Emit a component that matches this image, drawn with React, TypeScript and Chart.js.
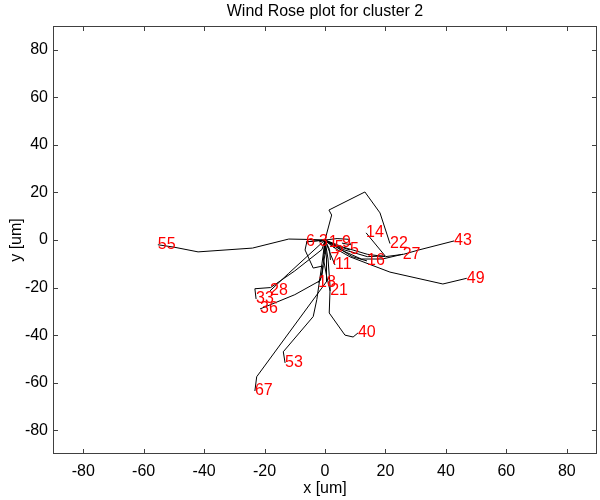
import React, { useEffect, useRef } from "react";
import { Chart, registerables } from "chart.js";

Chart.register(...registerables);

const chartTitle = "Wind Rose plot for cluster 2";
const xAxisLabel = "x [um]";
const yAxisLabel = "y [um]";
const tickValues = [-80, -60, -40, -20, 0, 20, 40, 60, 80];

const trackLabels = ["55", "6", "3", "1", "5", "9", "5", "7", "11", "14", "22", "16", "27", "43", "49", "18", "21", "28", "33", "36", "40", "53", "67"];

const trackXs = [
  [0, -4, -12, -24, -42, -50, -55.3],
  [0, -3, -6.3],
  [0, -1, -2],
  [0, 0.5, 1.2],
  [0, 1.5, 3.2],
  [0, 4, 7.7, 8.5, 5.6],
  [0, 4, 8.3],
  [0, 1.5, 1.8],
  [0, 1.5, 3.3],
  [0, 6, 14, 19.9, 13.6],
  [0, 2.2, 1.3, 13.2, 18.2, 21.5],
  [0, 4, 9, 13.9],
  [0, 5, 12, 19, 25.7],
  [0, 6, 14, 20, 26, 31, 42.7],
  [0, 4, 8.3, 21.5, 39, 46.9],
  [0, -6, -6.6, -3.9, -0.6, -1, -2.3],
  [0, -0.5, 0.5, 1.7],
  [0, -6, -12, -18.2],
  [0, -1, -10, -18, -23.2, -22.8],
  [0, 0, -1.5, -10, -21.5],
  [0, 1, 1.7, 1.4, 6.6, 9.3, 10.9],
  [0, -1, -2.7, -3.9, -13.8, -13.2],
  [0, 0.5, 0.5, -22.6, -23.2],
];

const trackYs = [
  [0, 0.2, 0.4, -3.4, -5, -3, -2],
  [0, -0.4, -0.8],
  [0, -0.5, -0.8],
  [0, -0.6, -1.3],
  [0, -1.8, -3.4],
  [0, 0.6, 0.3, -2, -1.3],
  [0, -2.5, -4.2],
  [0, -4, -8.4],
  [0, -5, -10.5],
  [0, -4, -7, -6.7, 3],
  [0, 10.5, 12.6, 20.2, 11.4, -1.5],
  [0, -3, -7, -8.8],
  [0, -4, -8, -8, -6],
  [0, -3, -6, -7, -6, -4.2, -0.4],
  [0, -4, -7.1, -13.5, -18.5, -16.1],
  [0, -0.7, -4.2, -11.8, -10.9, -15, -18],
  [0, -8, -15, -21.4],
  [0, -7, -14, -21.4],
  [0, -4, -13, -20, -20.5, -24.8],
  [0, -6, -17, -23, -29],
  [0, -8, -19.8, -30.7, -40, -40.8, -39.1],
  [0, -10, -25, -32.2, -47, -51.7],
  [0, -8, -17.5, -57.5, -63.5],
];

const FONT = "'Liberation Sans', Arial, Helvetica, sans-serif";

const decorPlugin = {
  id: "decor",
  afterDatasetsDraw(chart: any) {
    const ctx = chart.ctx;
    ctx.save();
    ctx.font = `16px ${FONT}`;
    ctx.fillStyle = "#ff0000";
    ctx.textAlign = "left";
    ctx.textBaseline = "middle";
    chart.data.datasets.forEach((ds: any, i: number) => {
      const meta = chart.getDatasetMeta(i);
      const last = meta.data[meta.data.length - 1];
      if (last) ctx.fillText(ds.label, last.x, last.y);
    });
    ctx.restore();
  },
  afterDraw(chart: any) {
    const ctx = chart.ctx;
    const a = chart.chartArea;
    const xs = chart.scales.x;
    const ys = chart.scales.y;
    ctx.save();
    ctx.strokeStyle = "#404040";
    ctx.lineWidth = 1;
    ctx.strokeRect(Math.round(a.left) + 0.5, Math.round(a.top) + 0.5, Math.round(a.right - a.left) - 1, Math.round(a.bottom - a.top) - 1);
    const tl = 5;
    ctx.beginPath();
    tickValues.forEach((v) => {
      const px = Math.round(xs.getPixelForValue(v)) + 0.5;
      ctx.moveTo(px, a.top);
      ctx.lineTo(px, a.top + tl);
      ctx.moveTo(px, a.bottom);
      ctx.lineTo(px, a.bottom - tl);
      const py = Math.round(ys.getPixelForValue(v)) + 0.5;
      ctx.moveTo(a.left, py);
      ctx.lineTo(a.left + tl, py);
      ctx.moveTo(a.right, py);
      ctx.lineTo(a.right - tl, py);
    });
    ctx.stroke();
    ctx.fillStyle = "#000000";
    ctx.font = `16px ${FONT}`;
    ctx.textAlign = "center";
    ctx.textBaseline = "middle";
    ctx.fillText(chartTitle, (a.left + a.right) / 2, 12);
    ctx.fillText(xAxisLabel, (a.left + a.right) / 2, 489);
    ctx.translate(17, (a.top + a.bottom) / 2);
    ctx.rotate(-Math.PI / 2);
    ctx.fillText(yAxisLabel, 0, 0);
    ctx.restore();
  },
};

export default function App() {
  const canvasRef = useRef<HTMLCanvasElement | null>(null);

  useEffect(() => {
    if (!canvasRef.current) return;
    const datasets = trackLabels.map((lab, i) => ({
      label: lab,
      data: trackXs[i].map((x, j) => ({ x, y: trackYs[i][j] })),
      showLine: true,
      borderColor: "#000000",
      borderWidth: 1,
      pointRadius: 0,
      tension: 0,
      fill: false,
    }));
    const setTicks = (scale: any) => {
      scale.ticks = tickValues.map((v) => ({ value: v }));
    };
    const chart = new Chart(canvasRef.current, {
      type: "scatter",
      data: { datasets },
      plugins: [decorPlugin],
      options: {
        animation: false,
        responsive: false,
        devicePixelRatio: 1,
        layout: { padding: { left: 0, right: 3, top: 26, bottom: 0 } },
        plugins: {
          legend: { display: false },
          title: { display: false },
          tooltip: { enabled: false },
        },
        scales: {
          x: {
            type: "linear",
            min: -90,
            max: 90,
            afterBuildTicks: setTicks,
            afterFit: (s: any) => {
              s.height = 46;
            },
            grid: { display: false, drawTicks: false },
            border: { display: false },
            ticks: {
              padding: 8,
              color: "#000000",
              font: { family: FONT, size: 16 },
              maxRotation: 0,
              autoSkip: false,
            },
          },
          y: {
            type: "linear",
            min: -90,
            max: 90,
            afterBuildTicks: setTicks,
            afterFit: (s: any) => {
              s.width = 53;
            },
            grid: { display: false, drawTicks: false },
            border: { display: false },
            ticks: {
              padding: 5,
              color: "#000000",
              font: { family: FONT, size: 16 },
              autoSkip: false,
            },
          },
        },
      },
    } as any);
    return () => chart.destroy();
  }, []);

  return (
    <div style={{ position: "fixed", left: 0, top: 0, width: 600, height: 500, background: "#ffffff" }}>
      <canvas ref={canvasRef} width={600} height={500} style={{ width: 600, height: 500 }} />
    </div>
  );
}
